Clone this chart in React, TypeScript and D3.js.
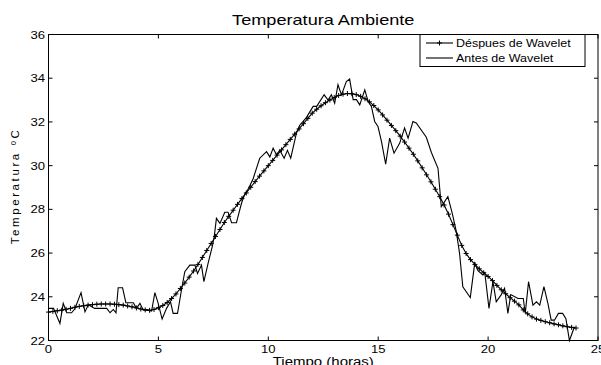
import * as d3 from "d3";

// Wavelet-smoothed temperature, one value every 0.2 h from 0 to 24 h
const smoothTemp = [
  23.3, 23.33, 23.36, 23.39, 23.43, 23.47, 23.52, 23.56, 23.59, 23.62,
  23.64, 23.66, 23.67, 23.67, 23.67, 23.66, 23.64, 23.62, 23.58, 23.54,
  23.49, 23.44, 23.4, 23.38, 23.42, 23.5, 23.6, 23.74, 23.92, 24.13,
  24.38, 24.63, 24.9, 25.18, 25.48, 25.8, 26.12, 26.44, 26.76, 27.08,
  27.4, 27.68, 27.96, 28.23, 28.5, 28.75, 29.01, 29.27, 29.52, 29.76,
  30.0, 30.24, 30.48, 30.72, 30.96, 31.2, 31.44, 31.68, 31.92, 32.16,
  32.4, 32.58, 32.74, 32.88, 33.0, 33.12, 33.21, 33.27, 33.3, 33.29,
  33.25, 33.17, 33.06, 32.92, 32.75, 32.55, 32.32, 32.08, 31.84, 31.6,
  31.35, 31.08, 30.8, 30.52, 30.22, 29.9, 29.58, 29.26, 28.92, 28.58,
  28.2, 27.78, 27.3, 26.82, 26.35, 25.98, 25.7, 25.48, 25.28, 25.1,
  24.93, 24.74, 24.52, 24.32, 24.14, 23.96, 23.8, 23.63, 23.4, 23.22,
  23.08, 22.98, 22.92, 22.86, 22.81, 22.76, 22.72, 22.67, 22.63, 22.6,
  22.57,
];
const smoothHours = smoothTemp.map((_, i) => i * 0.2);

// raw readings (before wavelet)
const rawHours = [
  0, 0.23, 0.52, 0.67, 0.83, 1.05, 1.2, 1.48, 1.66, 1.81, 2.1, 2.65, 2.8, 2.95,
  3.07, 3.17, 3.37, 3.52, 3.86, 4.0, 4.16, 4.31, 4.5, 4.69, 4.84, 4.99, 5.17,
  5.37, 5.55, 5.67, 5.87, 6.05, 6.2, 6.43, 6.66, 6.78, 6.96, 7.07, 7.26, 7.45,
  7.54, 7.64, 7.8, 8.02, 8.17, 8.33, 8.55, 8.78, 8.93, 9.1, 9.31, 9.61, 9.92,
  10.07, 10.22, 10.37, 10.52, 10.72, 10.87, 11.02, 11.28, 11.43, 11.73, 12.04,
  12.2, 12.54, 12.72, 12.87, 13.02, 13.17, 13.33, 13.55, 13.7, 13.86, 14.01,
  14.16, 14.39, 14.54, 14.69, 14.84, 14.99, 15.15, 15.34, 15.52, 15.72, 15.98,
  16.2, 16.36, 16.58, 16.73, 17.19, 17.42, 17.72, 17.87, 18.17, 18.37, 18.55,
  18.7, 18.85, 19.19, 19.39, 19.54, 19.76, 19.85, 20.04, 20.22, 20.37, 20.6,
  20.75, 20.9, 21.03, 21.36, 21.6, 21.69, 21.84, 22.04, 22.2, 22.35, 22.54,
  22.72, 22.87, 23.02, 23.2, 23.39, 23.54, 23.7, 23.93,
];
const rawTemp = [
  23.47, 23.47, 22.78, 23.7, 23.27, 23.27, 23.45, 24.19, 23.31, 23.63, 23.47,
  23.47, 23.27, 23.42, 23.27, 24.41, 24.41, 23.73, 23.73, 23.47, 23.7, 23.4,
  23.4, 23.35, 24.19, 23.7, 22.98, 23.47, 23.77, 23.24, 23.24, 24.31, 25.15,
  25.45, 25.45, 25.07, 25.45, 24.69, 25.53, 26.29, 26.75, 27.59, 27.36, 27.87,
  27.87, 27.39, 27.39, 28.28, 28.7, 28.95, 29.4, 30.34, 30.64, 30.4, 30.8,
  30.5, 30.7, 30.34, 30.7, 30.34, 31.49, 31.85, 32.2, 32.71, 32.71, 33.24,
  33.0, 33.24, 32.86, 33.7, 33.24, 33.85, 33.96, 33.02, 33.02, 32.78, 33.47,
  32.94, 32.71, 32.02, 31.79, 31.1, 30.07, 31.26, 30.57, 31.03, 31.72, 31.26,
  32.02, 31.95, 31.3, 30.6, 29.88, 28.12, 28.58, 27.82, 27.0, 26.0, 24.46,
  23.97, 25.53, 25.2, 25.0, 25.1, 23.47, 24.69, 23.77, 24.1, 24.39, 23.24,
  24.1, 23.92, 23.92, 23.24, 24.69, 23.62, 23.77, 23.62, 24.46, 23.7, 22.93,
  22.93, 23.24, 23.24, 23.0, 22.0, 22.63,
];

const xTicks = [0, 5, 10, 15, 20, 25];
const yTicks = [22, 24, 26, 28, 30, 32, 34, 36];
const legendLabels = ["Déspues de Wavelet", "Antes de Wavelet"];

const W = 601;
const H = 365;
const m = { left: 48.5, right: 598, top: 34.5, bottom: 340.5 };
const FONT = "'Liberation Sans', Arial, sans-serif";
const SX = 1.25; // glyphs in the reference are stretched horizontally

const Txt = ({ x, y, size, anchor = "start", children }: any) => (
  <text
    transform={`translate(${x},${y}) scale(${SX},1)`}
    fontSize={size}
    fontFamily={FONT}
    textAnchor={anchor}
    fill="#000"
  >
    {children}
  </text>
);

export default function App() {
  const x = d3.scaleLinear().domain([0, 25]).range([m.left, m.right]);
  const y = d3.scaleLinear().domain([22, 36]).range([m.bottom, m.top]);

  const line = d3.line<[number, number]>().x((d) => x(d[0])).y((d) => y(d[1]));
  const rawPts = rawHours.map((h, i) => [h, rawTemp[i]] as [number, number]);
  const smoothPts = smoothHours.map((h, i) => [h, smoothTemp[i]] as [number, number]);
  const plus = "M-2.5,0h5M0,-2.5v5";
  const tk = 4;

  return (
    <svg
      width={W}
      height={H}
      style={{ position: "absolute", left: 0, top: 0, background: "#fff" }}
    >
      <rect width={W} height={H} fill="#fff" />
      <Txt x={(m.left + m.right) / 2} y={25} size={14.5} anchor="middle">
        Temperatura Ambiente
      </Txt>

      <path d={line(rawPts) ?? ""} fill="none" stroke="#000" strokeWidth={1.1} />
      <path d={line(smoothPts) ?? ""} fill="none" stroke="#000" strokeWidth={1.1} />
      {smoothPts.map((p, i) => (
        <path
          key={i}
          d={plus}
          transform={`translate(${x(p[0])},${y(p[1])})`}
          stroke="#000"
          strokeWidth={1}
          fill="none"
        />
      ))}

      {/* box */}
      <rect
        x={m.left}
        y={m.top}
        width={m.right - m.left}
        height={m.bottom - m.top}
        fill="none"
        stroke="#000"
        strokeWidth={1}
      />
      {xTicks.map((t) => (
        <g key={"x" + t}>
          <line x1={x(t)} x2={x(t)} y1={m.bottom} y2={m.bottom - tk} stroke="#000" />
          <line x1={x(t)} x2={x(t)} y1={m.top} y2={m.top + tk} stroke="#000" />
          <Txt x={x(t)} y={353} size={10.5} anchor="middle">
            {t}
          </Txt>
        </g>
      ))}
      {yTicks.map((t) => (
        <g key={"y" + t}>
          <line x1={m.left} x2={m.left + tk} y1={y(t)} y2={y(t)} stroke="#000" />
          <line x1={m.right} x2={m.right - tk} y1={y(t)} y2={y(t)} stroke="#000" />
          <Txt x={45} y={y(t) + 4} size={10.5} anchor="end">
            {t}
          </Txt>
        </g>
      ))}

      <Txt x={(m.left + m.right) / 2} y={366} size={12} anchor="middle">
        Tiempo (horas)
      </Txt>
      <text
        transform={`translate(19,186) rotate(-90)`}
        fontSize={11.5}
        fontFamily={FONT}
        textAnchor="middle"
        letterSpacing={2.6}
      >
        Temperatura ºC
      </text>

      {/* legend */}
      <rect x={420} y={m.top} width={165} height={32} fill="#fff" stroke="#000" strokeWidth={1} />
      {legendLabels.map((lab, i) => {
        const ly = 43 + i * 15;
        return (
          <g key={lab}>
            <line x1={426} x2={453} y1={ly} y2={ly} stroke="#000" strokeWidth={1.1} />
            {i === 0 && (
              <path d={plus} transform={`translate(439.5,${ly})`} stroke="#000" fill="none" />
            )}
            <Txt x={456} y={ly + 3.6} size={10}>
              {lab}
            </Txt>
          </g>
        );
      })}
    </svg>
  );
}
